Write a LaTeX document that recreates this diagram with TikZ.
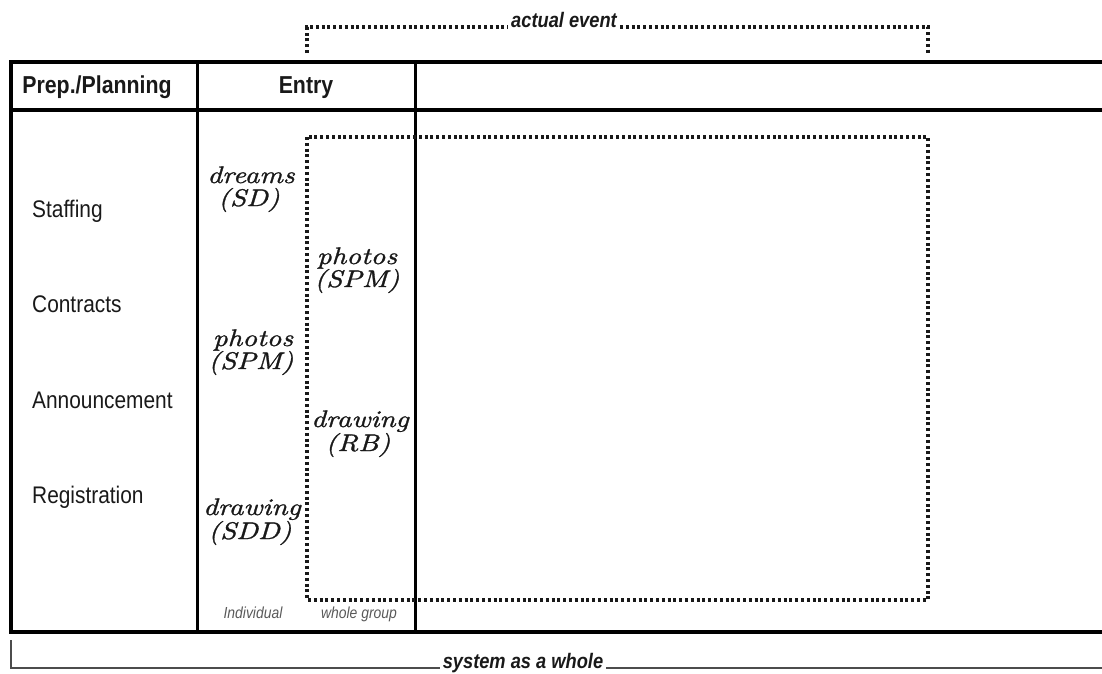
\documentclass[tikz,border=0pt]{standalone}
\usepackage{fontspec}
\setsansfont{Liberation Sans}
\newfontfamily\narrowsans[FakeStretch=0.87]{Liberation Sans}
\newfontfamily\handfont[FakeStretch=1.2,FakeBold=1.2]{lmroman10-italic.otf}
\begin{document}
\begin{tikzpicture}[x=1pt,y=-1pt,
  frame/.style={line width=4.5pt,black},
  divider/.style={line width=3pt,black},
  dotline/.style={line width=3.2pt,dash pattern=on 3pt off 2.8pt,black!90},
  bracket/.style={line width=1.5pt,black!70},
  head/.style={font=\narrowsans\bfseries\fontsize{24.5}{26}\selectfont,anchor=base,inner sep=0,text=black!90},
  rowlabel/.style={font=\narrowsans\fontsize{24}{26}\selectfont,anchor=base west,inner sep=0,text=black!90},
  script/.style={font=\handfont\fontsize{24}{23}\selectfont,anchor=base,inner sep=0,text=black!90},
  small/.style={font=\narrowsans\itshape\fontsize{16}{18}\selectfont,anchor=base,inner sep=0,text=black!65},
  caption/.style={font=\narrowsans\bfseries\itshape\fontsize{21}{22}\selectfont,anchor=base,inner sep=3pt,text=black!90}
]
\useasboundingbox (0,0) rectangle (1102,673);
% table
\draw[frame] (1102,62) -- (11,62) -- (11,632) -- (1102,632);
\draw[line width=3.5pt] (11,110) -- (1102,110);
\draw[divider] (197,62) -- (197,632);
\draw[divider] (415,62) -- (415,632);
% dotted region
\draw[dotline] (307,137) rectangle (928,600);
% actual event bracket
\node[caption] (evt) at (564,27) {actual event};
\draw[dotline] (307,53) |- (evt.base west);
\draw[dotline] (evt.base east) -| (928,53);
% system as a whole bracket
\node[caption] (sys) at (523,668) {system as a whole};
\draw[bracket] (11,640) |- (sys.base west);
\draw[bracket] (sys.base east) -- (1102,668);
% headers
\node[head] (prep) at (97,93) {Prep./Planning};
\node[head] (entry) at (306,93) {Entry};
% row labels
\node[rowlabel] (staff) at (32,217) {Staffing};
\node[rowlabel] (contr) at (32,312) {Contracts};
\node[rowlabel] (annc) at (32,408) {Announcement};
\node[rowlabel] (reg) at (32,503) {Registration};
% individual column
\node[script] (sd1) at (251,183) {dreams};
\node[script] (sd2) at (249,206) {(SD)};
\node[script] (spm1) at (253,346) {photos};
\node[script] (spm2) at (251,369) {(SPM)};
\node[script] (sdd1) at (252,515) {drawing};
\node[script] (sdd2) at (250,539) {(SDD)};
% whole group column
\node[script] (gp1) at (357,264) {photos};
\node[script] (gp2) at (357,287) {(SPM)};
\node[script] (rb1) at (360,427) {drawing};
\node[script] (rb2) at (358,451) {(RB)};
% column footers
\node[small] (ind) at (253,618) {Individual};
\node[small] (whole) at (359,618) {whole group};
\end{tikzpicture}
\end{document}
